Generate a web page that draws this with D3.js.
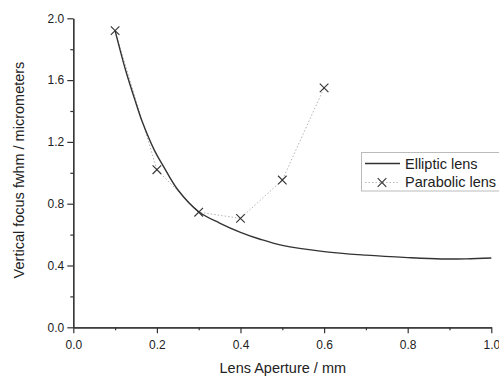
<!DOCTYPE html>
<html>
<head>
<meta charset="utf-8">
<script src="https://cdn.jsdelivr.net/npm/d3@7"></script>
<style>
  html, body { margin: 0; padding: 0; background: #fff; }
  svg { display: block; font-family: "Liberation Sans", Arial, sans-serif; }
</style>
</head>
<body>
<svg id="chart" width="499" height="378"></svg>
<script>
// Elliptic lens: smooth curve sampled along the aperture
const ellipticAperture = [0.10, 0.125, 0.15, 0.165, 0.195, 0.215, 0.25, 0.30, 0.35, 0.40, 0.447, 0.50, 0.60, 0.70, 0.80, 0.88, 0.94, 1.00];
const ellipticFwhm     = [1.92, 1.665, 1.45, 1.33, 1.14, 1.045, 0.89, 0.748, 0.675, 0.615, 0.570, 0.530, 0.490, 0.467, 0.451, 0.442, 0.443, 0.449];

// Parabolic lens: discrete samples
const parabolicAperture = [0.1, 0.2, 0.3, 0.4, 0.5, 0.6];
const parabolicFwhm     = [1.92, 1.02, 0.745, 0.705, 0.953, 1.55];

const xTicks = [0.0, 0.2, 0.4, 0.6, 0.8, 1.0];
const yTicks = [0.0, 0.4, 0.8, 1.2, 1.6, 2.0];
const xMinor = [0.1, 0.3, 0.5, 0.7, 0.9];
const yMinor = [0.2, 0.6, 1.0, 1.4, 1.8];

const legendLabels = ["Elliptic lens", "Parabolic lens"];

const svg = d3.select("#chart");
const axisColor = "#333";
const textColor = "#222";

const x = d3.scaleLinear().domain([0, 1]).range([73.3, 491.3]);
const y = d3.scaleLinear().domain([0, 2]).range([327.3, 18.3]);

// Axes (left and bottom only)
const xAxis = svg.append("g").attr("transform", `translate(0,${y(0)})`)
  .call(d3.axisBottom(x).tickValues(xTicks).tickFormat(d3.format(".1f")).tickSize(6).tickSizeOuter(0));
const xMinorAxis = svg.append("g").attr("transform", `translate(0,${y(0)})`)
  .call(d3.axisBottom(x).tickValues(xMinor).tickFormat("").tickSize(3).tickSizeOuter(0));
const yAxis = svg.append("g").attr("transform", `translate(${x(0)},0)`)
  .call(d3.axisLeft(y).tickValues(yTicks).tickFormat(d3.format(".1f")).tickSize(6).tickSizeOuter(0));
const yMinorAxis = svg.append("g").attr("transform", `translate(${x(0)},0)`)
  .call(d3.axisLeft(y).tickValues(yMinor).tickFormat("").tickSize(3).tickSizeOuter(0));

[xAxis, xMinorAxis, yAxis, yMinorAxis].forEach(g => {
  g.selectAll("path.domain").attr("stroke", axisColor).attr("stroke-width", 1.2);
  g.selectAll(".tick line").attr("stroke", axisColor).attr("stroke-width", 1.2);
  g.selectAll(".tick text").attr("fill", textColor).attr("font-size", 12)
    .attr("font-family", "'Liberation Sans', Arial, sans-serif");
});
xAxis.selectAll(".tick text").attr("dy", "1.05em");
yAxis.selectAll(".tick text").attr("x", -9);

// Axis titles
svg.append("text")
  .attr("x", (x(0) + x(1)) / 2 + 0.5).attr("y", 373)
  .attr("text-anchor", "middle").attr("font-size", 14.5).attr("fill", textColor)
  .text("Lens Aperture / mm");
svg.append("text")
  .attr("transform", `translate(24,170) rotate(-90)`)
  .attr("text-anchor", "middle").attr("font-size", 14.5).attr("fill", textColor)
  .text("Vertical focus fwhm / micrometers");

// Parabolic lens: dotted connecting line
const parabolicData = parabolicAperture.map((a, i) => [a, parabolicFwhm[i]]);
svg.append("path")
  .datum(parabolicData)
  .attr("fill", "none").attr("stroke", "#b5b5b5").attr("stroke-width", 1)
  .attr("stroke-dasharray", "1.5,2")
  .attr("d", d3.line().x(d => x(d[0])).y(d => y(d[1])));

// Elliptic lens: solid curve
const ellipticData = ellipticAperture.map((a, i) => [a, ellipticFwhm[i]]);
svg.append("path")
  .datum(ellipticData)
  .attr("fill", "none").attr("stroke", "#333").attr("stroke-width", 1.4)
  .attr("d", d3.line().curve(d3.curveCatmullRom.alpha(0.5)).x(d => x(d[0])).y(d => y(d[1])));

// Cross markers
const cross = d3.symbol().type(d3.symbolX).size(50);
svg.append("g").selectAll("path")
  .data(parabolicData).join("path")
  .attr("transform", d => `translate(${x(d[0])},${y(d[1])})`)
  .attr("d", cross)
  .attr("fill", "none").attr("stroke", "#333").attr("stroke-width", 1.1);

// Legend
const legend = svg.append("g");
legend.append("rect")
  .attr("x", 361.5).attr("y", 152.5).attr("width", 150).attr("height", 38.5)
  .attr("fill", "#fff").attr("stroke", "#bbb").attr("stroke-width", 1);
legend.append("line")
  .attr("x1", 365).attr("x2", 400).attr("y1", 163.5).attr("y2", 163.5)
  .attr("stroke", "#333").attr("stroke-width", 1.4);
legend.append("line")
  .attr("x1", 365).attr("x2", 400).attr("y1", 182.5).attr("y2", 182.5)
  .attr("stroke", "#bbb").attr("stroke-width", 1).attr("stroke-dasharray", "1.5,2");
legend.append("path")
  .attr("transform", "translate(382,182.5)")
  .attr("d", cross)
  .attr("fill", "none").attr("stroke", "#333").attr("stroke-width", 1.1);
legend.selectAll("text.lbl")
  .data(legendLabels).join("text")
  .attr("class", "lbl")
  .attr("x", 405).attr("y", (d, i) => 168.5 + i * 18.5)
  .attr("font-size", 14.5).attr("fill", textColor)
  .text(d => d);
</script>
</body>
</html>
